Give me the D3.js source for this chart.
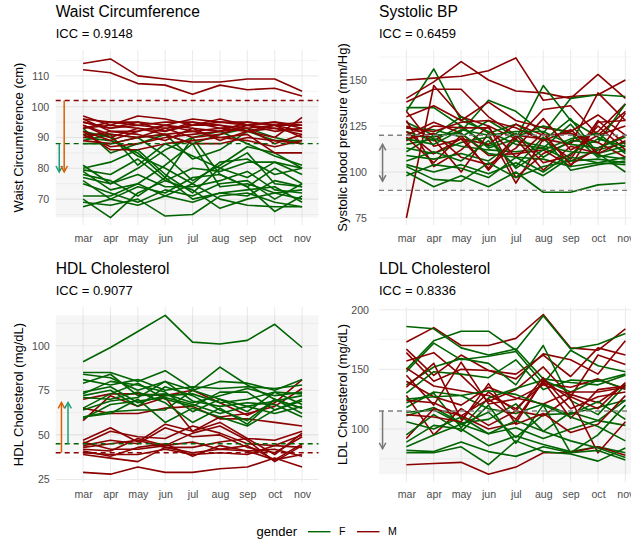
<!DOCTYPE html>
<html><head><meta charset="utf-8">
<script src="https://cdn.jsdelivr.net/npm/d3@7"></script>
<style>body{margin:0;background:#fff}svg{display:block;font-family:"Liberation Sans",Arial,Helvetica,sans-serif}</style>
</head><body><svg id="c" width="631" height="543"></svg>
<script>
// ---------- data ----------
const months = ["mar","apr","may","jun","jul","aug","sep","oct","nov"];
const genders = ["F","M"];
const titles = ["Waist Circumference","Systolic BP","HDL Cholesterol","LDL Cholesterol"];
const iccs = ["ICC = 0.9148","ICC = 0.6459","ICC = 0.9077","ICC = 0.8336"];
const yTitles = ["Waist Circumference (cm)","Systolic blood pressure (mm/Hg)","HDL Cholesterol (mg/dL)","LDL Cholesterol (mg/dL)"];
const waistTicks = [70,80,90,100,110];
const sbpTicks = [75,100,125,150];
const hdlTicks = [25,50,75,100];
const ldlTicks = [100,150,200];

const waistF = [
 [93,85,88,91,88,91,93,90,88],
 [92,90,84,80,75,82,83,78,80],
 [91,91,90,91,83,86,92,89,89],
 [90,89,85,77,90,92,88,84,81],
 [89,91,81,88,84,80,77,82,80],
 [88,88,90,84,76,81,87,85,80],
 [81,75,80,86,90,78,74,80,75],
 [79.5,78,83,76,80,79,82,82,78],
 [79,73,75,81,88,74,75,72,73],
 [78,76,71,77,70,72,71,76,74],
 [77,75,78,74,74,76,79,73,72],
 [76,70,74,72,77,78,74,66,71],
 [75,72,69,73,71,75,76,70,75],
 [71,71,75,71,69,72,73,74,69],
 [70,64,72,76,73,67,70,72,70],
 [69,68,70,64.5,65,71,72,69,67.5],
 [67.5,70,68,71,75,70,68,67.5,67.5],
 [80,82,86,78,72,80,85,75,74]
];
const waistM = [
 [114,115.5,110,109,108,108,109,109,105],
 [112,111,107.5,107,104,107,105.5,106,103.5],
 [97,94,97,96,94,95,94,95,93],
 [96,95,95,94,96,95,95,94,92],
 [95,93,94,95,95,94,93,94,94],
 [94,90,93,92,94,96,94,93,91],
 [96,92,92,94,93,92,95,94,90],
 [93,94,93,91,92,93,92,90,96.5],
 [92,86,86,88,89,90,91,85,85],
 [91,87,88,90,91,92,93,88,91],
 [94,91,90,93,90,91,94,92,93],
 [90,92,91,89,93,89,92,93,92],
 [89,88,90,91,88,88,90,89,88],
 [95,93,95,92,95,93,94,95,94],
 [92,89,92,94,92,90,89,87,89],
 [93,95,94,93,94,94,92,94,95]
];
const sbpF = [
 [133,156,128,122,115,113,126,109,107],
 [120,119,122,139,133,121,140,142,141],
 [135,135,125,113,118,147,128,119,111],
 [127,120,130,121,126,117,129,110,100],
 [124,123,119,128,119,125,121,108,112],
 [122,117,125,114,121,108,117,116,137],
 [115,118,114,112,111,113,106,112,116],
 [113,110,116,119,102,112,118,121,110],
 [111,120,121,110,108,107,103,105,108],
 [109,107,110,106,117,114,111,110,114],
 [106,111,106,117,103,119,101,104,106],
 [104,100,104,99,105,98,108,105,104],
 [103,96,95,105,97,103,106,107,105],
 [100,92,98,92,100,89,89,93,94],
 [98,104,102,97,108,100,110,118,114],
 [118,115,123,120,122,122,115,113,119]
];
const sbpM = [
 [150,151,152,155,162,139,141,142,150],
 [140,149,160,150,144,143,140,153,140],
 [138,145,145,130,120,118,115,143,128],
 [75,147,130,125,118,134,136,120,133],
 [130,136,128,138,128,124,122,131,120],
 [128,103,112,125,97,110,116,122,137],
 [125,118,100,121,94,118,107,128,115],
 [120,127,121,109,110,112,103,127,128],
 [122,110,118,115,126,120,121,116,108],
 [119,105,120,101,118,101,114,110,132],
 [118,121,108,104,113,129,112,120,125],
 [124,122,127,128,124,117,123,110,117],
 [133,114,118,102,120,105,109,125,112],
 [117,125,124,124,108,121,104,113,120]
];
const hdlF = [
 [91,99,108,117,102,101,103,112,99],
 [85,85,80,86,76,88,78,70,65],
 [84,82,75,80,75,80,79,75,81],
 [81,78,81,75,77,76,77,76,78],
 [79,84,72,73,68,72,76,72,74],
 [74,77,68,72,73,68,70,74,67],
 [73,80,78,74,63,70,66,69,72],
 [72,75,66,77,72,64,58,70,62],
 [71,70,74,68,57,65,56,70,65],
 [65,73,79,70,66,74,74,64,70],
 [64,69,71,80,69,66,68,67,60],
 [60,63,64,64,75,70,63,74,73],
 [60,62,70,57,65,60,55,64,69],
 [59,67,69,71,67,62,66,62,66]
];
const hdlM = [
 [70,73,73,72,75,68,61,68,81],
 [65,62,62,65,66,59,59,57,55],
 [58,72,66,71,52,60,62,66,76],
 [47,54,46,56,52,57,48,47,52],
 [45,52,49,48,55,51,45,44,50],
 [44,47,45,54,49,50,43,40,49],
 [43,45,47,43,43,46,48,39,51],
 [42,41,48,44,46,42,44,36,45],
 [41,38,43,45,38,44,41,42,38],
 [40,39,39,42,39,40,39,44,43],
 [39,37,35,43,40,42,41,36,39],
 [46,42,42,44,51,55,47,35,44],
 [29,28,32,29,29,31,32,37,32]
];
const ldlF = [
 [186,184,168,162,167,142,139,137,145],
 [150,174,182,182,166,195,167,171,180],
 [148,172,158,161,165,138,166,153,148],
 [137,152,159,155,137,170,124,112,137],
 [130,148,146,143,158,133,141,140,146],
 [122,130,101,126,134,141,131,141,134],
 [118,131,128,117,113,121,112,123,108],
 [114,116,104,114,93,112,113,118,124],
 [111,118,105,108,121,98,114,107,124],
 [106,100,110,96,101,92,100,107,103],
 [95,112,98,120,88,120,80,95,120],
 [89,103,100,86,94,87,81,85,80],
 [85,95,104,96,107,98,90,84,76],
 [82,81,89,81,77,85,80,82,74],
 [80,80,85,70,90,81,79,73,84],
 [125,127,128,132,129,120,110,102,90]
];
const ldlM = [
 [173,185,170,170,176,196,168,166,184],
 [167,145,162,149,146,162,144,168,162],
 [164,140,150,149,142,163,158,146,174],
 [157,164,145,123,133,152,127,162,154],
 [151,136,132,128,117,138,135,142,133],
 [145,120,156,121,125,137,129,122,138],
 [140,127,120,135,126,121,131,131,135],
 [135,155,108,131,115,143,117,127,131],
 [128,95,117,103,115,111,127,117,139],
 [124,122,111,125,108,140,109,133,136],
 [92,117,111,100,105,141,125,80,106],
 [112,110,106,138,104,113,97,104,128],
 [70,71,72,62,68,80,80,85,78]
];
// reference thresholds
const waistCut = {F:88, M:102};
const sbpRange = [90,120];
const hdlCut = {F:45, M:40};
const ldlCut = 115;

// ---------- drawing ----------
const svg = d3.select("#c");
const colF = "#006400", colM = "#8B0000";
const teal = "#1B9E77", orange = "#D95F02", grayA = "#777777";
const unit = 27.375;
const tickFont = "10.6px";

function arrowHead(g, x, y, dir, color){
  const h = 6, w = 3.3;
  g.append("path")
    .attr("d", `M${x-w},${y-dir*h} L${x},${y} L${x+w},${y-dir*h}`)
    .attr("fill","none").attr("stroke",color).attr("stroke-width",1.5);
}
function arrow(g, x, y1, y2, color, both){
  g.append("line").attr("x1",x).attr("x2",x).attr("y1",y1).attr("y2",y2)
   .attr("stroke",color).attr("stroke-width",1.5);
  const dir = y2 > y1 ? 1 : -1;
  arrowHead(g, x, y2, dir, color);
  if (both) arrowHead(g, x, y1, -dir, color);
}

function panel(p){
  const g = svg.append("g");
  const x = d3.scaleLinear().domain([0, 9.6]).range([p.left, p.left + 9.6*unit]);
  const y = d3.scaleLinear().domain(p.yDom).range([p.bottom, p.top]);
  const step = p.ticks[1]-p.ticks[0];
  const minor = [];
  for (let v = p.ticks[0]-step/2; v <= p.yDom[1]; v += step) if (v >= p.yDom[0]) minor.push(v);
  const x0 = p.left, x1 = p.left + 9.6*unit;
  g.selectAll(".mn").data(minor).enter().append("line")
    .attr("x1",x0).attr("x2",x1).attr("y1",d=>y(d)).attr("y2",d=>y(d))
    .attr("stroke","#EBEBEB").attr("stroke-width",0.55);
  g.selectAll(".mj").data(p.ticks).enter().append("line")
    .attr("x1",x0).attr("x2",x1).attr("y1",d=>y(d)).attr("y2",d=>y(d))
    .attr("stroke","#EBEBEB").attr("stroke-width",1.07);
  g.selectAll(".vx").data(months).enter().append("line")
    .attr("x1",(d,i)=>x(i+1)).attr("x2",(d,i)=>x(i+1)).attr("y1",p.top).attr("y2",p.bottom)
    .attr("stroke","#EBEBEB").attr("stroke-width",1.07);
  g.append("rect").attr("x",x0).attr("width",x1-x0)
    .attr("y",y(p.shade[1])).attr("height",y(p.shade[0])-y(p.shade[1]))
    .attr("fill","#000").attr("fill-opacity",0.035);
  const line = d3.line().x((d,i)=>x(i+1)).y(d=>y(d));
  const series = [];
  const n = Math.max(p.F.length, p.M.length);
  for (let i=0;i<n;i++){
    if (p.M[i]) series.push({v:p.M[i], c:colM});
    if (p.F[i]) series.push({v:p.F[i], c:colF});
  }
  g.selectAll(".ln").data(series).enter().append("path")
    .attr("d",d=>line(d.v)).attr("fill","none").attr("stroke",d=>d.c)
    .attr("stroke-width",1.6).attr("stroke-linejoin","round");
  p.hl.forEach(h=>{
    g.append("line").attr("x1",x0).attr("x2",x1).attr("y1",y(h.v)).attr("y2",y(h.v))
      .attr("stroke",h.c).attr("stroke-width",1.4).attr("stroke-dasharray","5,4");
  });
  p.arrows.forEach(a=>arrow(g, x(a.x), y(a.from), y(a.to), a.c, a.both));
  const ya = g.append("g").attr("transform",`translate(${x0},0)`)
    .call(d3.axisLeft(y).tickValues(p.ticks).tickSize(0).tickPadding(p.pad));
  ya.select(".domain").remove();
  ya.selectAll("text").attr("fill","#4D4D4D").style("font-size",tickFont).style("font-family","Liberation Sans, Arial, sans-serif");
  const xa = g.append("g").attr("transform",`translate(0,${p.bottom})`)
    .call(d3.axisBottom(x).tickValues(d3.range(1,10)).tickFormat(i=>months[i-1]).tickSize(0).tickPadding(p.xpad));
  xa.select(".domain").remove();
  xa.selectAll("text").attr("fill","#4D4D4D").style("font-size",tickFont).style("font-family","Liberation Sans, Arial, sans-serif");
  g.append("text").attr("x",x0).attr("y",p.top-33.3).text(p.title)
    .style("font-size","15.6px").attr("fill","#000");
  g.append("text").attr("x",x0).attr("y",p.top-11.7).text(p.sub)
    .style("font-size","13px").attr("fill","#000");
  g.append("text").attr("transform",`translate(${p.ytx},${(p.top+p.bottom)/2}) rotate(-90)`)
    .attr("text-anchor","middle").attr("dy","0.35em").text(p.ytitle)
    .style("font-size","13px").attr("fill","#000");
}

const allW = waistF.concat(waistM).flat();
const allH = hdlF.concat(hdlM).flat();
const allL = ldlF.concat(ldlM).flat();

panel({left:55.7, top:50, bottom:225, yDom:[61.6,118.4], ticks:waistTicks, pad:6.5, xpad:9.2, ytx:18.5,
  title:titles[0], sub:iccs[0], ytitle:yTitles[0], F:waistF, M:waistM,
  shade:[d3.min(allW), waistCut.M],
  hl:[{v:waistCut.M,c:colM},{v:waistCut.F,c:colF}],
  arrows:[{x:0.13,from:waistCut.F,to:78.8,c:teal},{x:0.31,from:waistCut.M,to:78.8,c:orange}]});
panel({left:379, top:50, bottom:225, yDom:[71.2,166.3], ticks:sbpTicks, pad:12, xpad:9.2, ytx:342.5,
  title:titles[1], sub:iccs[1], ytitle:yTitles[1], F:sbpF, M:sbpM,
  shade:sbpRange,
  hl:[{v:sbpRange[1],c:"#808080"},{v:sbpRange[0],c:"#808080"}],
  arrows:[{x:0.13,from:115,to:95,c:grayA,both:true}]});
panel({left:55.7, top:307, bottom:482, yDom:[23.6,121.7], ticks:hdlTicks, pad:6, xpad:8.5, ytx:18.5,
  title:titles[2], sub:iccs[2], ytitle:yTitles[2], F:hdlF, M:hdlM,
  shade:[hdlCut.M, d3.max(allH)],
  hl:[{v:hdlCut.F,c:colF},{v:hdlCut.M,c:colM}],
  arrows:[{x:0.21,from:hdlCut.M,to:68.2,c:orange},{x:0.45,from:hdlCut.F,to:68.2,c:teal}]});
panel({left:379, top:307, bottom:482, yDom:[55.5,202.3], ticks:ldlTicks, pad:10, xpad:8.5, ytx:342.5,
  title:titles[3], sub:iccs[3], ytitle:yTitles[3], F:ldlF, M:ldlM,
  shade:[d3.min(allL), ldlCut],
  hl:[{v:ldlCut,c:"#808080"}],
  arrows:[{x:0.13,from:ldlCut,to:83.4,c:grayA}]});

// legend
const lg = svg.append("g");
const lx = d3.scaleOrdinal().domain(genders).range([308, 357]);
const lc = d3.scaleOrdinal().domain(genders).range([colF, colM]);
lg.append("text").attr("x",256.5).attr("y",531.7).attr("dy","0.35em").text("gender").style("font-size","13px");
lg.selectAll(".k").data(genders).enter().append("line")
  .attr("x1",d=>lx(d)).attr("x2",d=>lx(d)+22.5).attr("y1",531.7).attr("y2",531.7)
  .attr("stroke",d=>lc(d)).attr("stroke-width",1.4);
lg.selectAll(".kt").data(genders).enter().append("text")
  .attr("x",d=>lx(d)+31).attr("y",531.7).attr("dy","0.35em").text(d=>d)
  .style("font-size","10.6px").attr("fill","#000");
</script></body></html>
